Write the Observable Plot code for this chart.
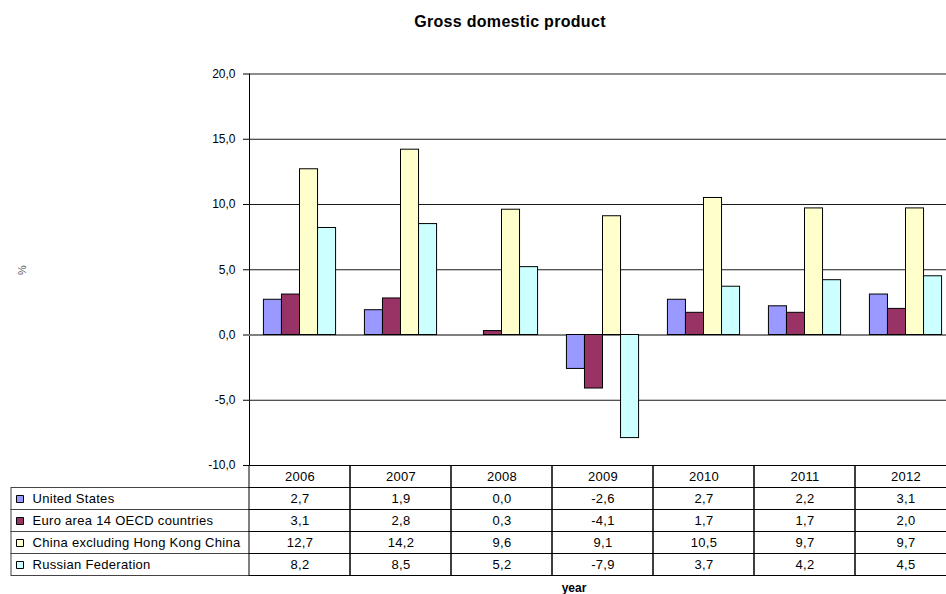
<!DOCTYPE html>
<html>
<head>
<meta charset="utf-8">
<script src="https://cdn.jsdelivr.net/npm/d3@7"></script>
<script src="https://cdn.jsdelivr.net/npm/@observablehq/plot@0.6"></script>
<style>
html, body { margin: 0; padding: 0; background: #fff; overflow: hidden; }
#wrap { position: relative; width: 946px; height: 594px; overflow: hidden; background: #fff;
        font-family: "Liberation Sans", Arial, sans-serif; color: #000; }
.abs { position: absolute; }
#wrap svg { max-width: none !important; display: block; }
</style>
</head>
<body>
<div id="wrap">
  <div id="chart" class="abs" style="left:0;top:0"></div>
  <div id="table" class="abs" style="left:0;top:465px"></div>
  <div id="title" class="abs" style="left:310px;top:13px;width:400px;text-align:center;font-size:16px;font-weight:bold;line-height:18px;letter-spacing:0.3px;">Gross domestic product</div>
  <div id="ylab" class="abs" style="left:12px;top:263px;width:20px;text-align:center;font-size:11px;line-height:14px;color:#555;transform:rotate(-90deg);">%</div>
  <div id="xlab" class="abs" style="left:524px;top:581px;width:100px;text-align:center;font-size:12px;font-weight:bold;line-height:14px;">year</div>
</div>
<script>
// ---- data ----
const years = ["2006", "2007", "2008", "2009", "2010", "2011", "2012"];
const seriesNames = [
  "United States",
  "Euro area 14 OECD countries",
  "China excluding Hong Kong China",
  "Russian Federation"
];
const seriesColors = ["#9999FF", "#993366", "#FFFFCC", "#CCFFFF"];
const usValues     = [2.7, 1.9, 0.0, -2.6, 2.7, 2.2, 3.1];
const euroValues   = [3.1, 2.8, 0.3, -4.1, 1.7, 1.7, 2.0];
const chinaValues  = [12.7, 14.2, 9.6, 9.1, 10.5, 9.7, 9.7];
const russiaValues = [8.2, 8.5, 5.2, -7.9, 3.7, 4.2, 4.5];
const yTicks = [-10, -5, 0, 5, 10, 15, 20];

// ---- build tables ----
const seriesValues = [usValues, euroValues, chinaValues, russiaValues];
const rows = seriesNames.flatMap((s, i) =>
  years.map((y, j) => ({series: s, year: y, value: seriesValues[i][j]})));

const fmt = d3.formatLocale({decimal: ",", thousands: ".", grouping: [3], currency: ["", ""], minus: "-"}).format(".1f");

const font = "'Liberation Sans', Arial, sans-serif";

const chart = Plot.plot({
  width: 956,
  height: 594,
  marginLeft: 249,
  marginRight: 0,
  marginTop: 73.5,
  marginBottom: 129,
  style: {fontFamily: font, fontSize: "12px", background: "transparent", color: "#000", overflow: "visible"},
  fx: {domain: years, padding: 0, axis: null, label: null},
  x: {domain: seriesNames, paddingInner: 0, paddingOuter: 0.8, round: false, axis: null},
  y: {domain: [-10, 20], ticks: yTicks, tickFormat: fmt, tickSize: 6, tickPadding: 8, label: null, line: true},
  color: {domain: seriesNames, range: seriesColors},
  marks: [
    Plot.ruleY(yTicks.filter(t => t !== 0), {stroke: "#1a1a1a", strokeWidth: 1}),
    Plot.ruleY([0], {stroke: "#808080", strokeWidth: 2}),
    Plot.barY(rows, {fx: "year", x: "series", y: "value", fill: "series", stroke: "#000", strokeWidth: 1})
  ]
});
document.getElementById("chart").appendChild(chart);

// ---- data table below the chart ----
const headerCells = years.map(y => ({year: y, row: "header", label: y}));
const valueCells = rows.map(d => ({year: d.year, row: d.series, label: fmt(d.value)}));
const cells = headerCells.concat(valueCells);

const table = Plot.plot({
  width: 956,
  height: 112,
  marginLeft: 11,
  marginRight: 0,
  marginTop: 0.5,
  marginBottom: 1.5,
  style: {fontFamily: font, fontSize: "13px", background: "transparent", color: "#000", overflow: "visible", letterSpacing: "0.3px"},
  x: {domain: years, range: [249, 956], padding: 0, round: false, axis: null},
  y: {domain: ["header", ...seriesNames], padding: 0, round: false, axis: null},
  color: {domain: seriesNames, range: seriesColors},
  marks: [
    Plot.cell(seriesNames, {y: d => d, fill: "none", stroke: "#444", strokeWidth: 1}),
    Plot.cell(cells, {x: "year", y: "row", fill: "none", stroke: "#000", strokeWidth: 1}),
    Plot.text(cells, {x: "year", y: "row", text: "label", fill: "#000"}),
    Plot.dot(seriesNames, {y: d => d, frameAnchor: "left", dx: 8.5, symbol: "square", r: 3.95, fill: d => d, stroke: "#000", strokeWidth: 1}),
    Plot.text(seriesNames, {y: d => d, frameAnchor: "left", dx: 21, text: d => d, textAnchor: "start", fill: "#000"})
  ]
});
document.getElementById("table").appendChild(table);
</script>
</body>
</html>
